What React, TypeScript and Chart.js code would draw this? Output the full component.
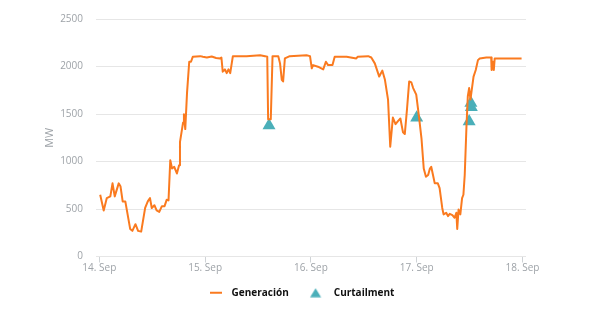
import React, { useEffect, useRef } from 'react';
import { Chart, registerables } from 'chart.js';
Chart.register(...registerables);

// Hours since 14 Sep 00:00
const genHours = [
  0.2, 1.0, 1.7, 2.5, 3.0, 3.5, 4.4, 4.8, 5.3, 5.9, 7.0, 7.5, 8.2, 8.8, 9.5, 10.4, 11.0, 11.5, 11.9, 12.5,
  13.0, 13.6, 14.2, 14.8, 15.3, 15.7, 16.1, 16.5, 17.0, 17.6, 18.1, 18.3, 19.0, 19.2, 19.5, 19.9, 20.4, 20.8,
  21.2, 22.9, 23.5, 24.4, 25.5, 26.5, 27.4, 27.7, 28.0, 28.5, 28.9, 29.3, 29.7, 30.3, 33.4, 36.5, 37.6, 38.1,
  38.3, 38.9, 39.3, 40.6, 41.0, 41.4, 41.7, 42.1, 43.2, 47.0, 47.8, 48.2, 48.5, 49.6, 50.8, 51.4, 51.9, 52.9,
  53.4, 56.1, 58.3, 58.6, 61.0, 61.7, 62.5, 63.5, 64.2, 64.8, 65.5, 66.0, 66.6, 67.2, 67.8, 68.3, 68.9, 69.3,
  69.8, 70.3, 70.8, 71.2, 71.9, 72.5, 73.1, 73.6, 74.1, 74.6, 75.0, 75.3, 75.7, 76.1, 76.8, 77.2, 77.8, 78.1,
  78.7, 79.1, 79.5, 80.1, 80.6, 81.0, 81.2, 81.5, 81.9, 82.3, 82.6, 82.9, 83.3, 83.6, 83.9, 84.2, 84.5, 84.9,
  85.4, 85.9, 86.3, 87.8, 88.9, 89.0, 89.3, 89.5, 89.7, 92.3, 95.8,
];
const genMW = [
  650, 485, 615, 633, 770, 633, 770, 740, 580, 580, 290, 270, 340, 270, 262, 511, 580, 615, 511, 540,
  485, 470, 530, 530, 598, 590, 1013, 926, 944, 874, 961, 1203, 1410, 1497, 1341, 1722, 2050, 2050,
  2102, 2109, 2102, 2095, 2105, 2090, 2085, 2095, 1946, 1970, 1930, 1970, 1930, 2109, 2109, 2119, 2109, 2102,
  1445, 1445, 2109, 2109, 2033, 1860, 1843, 2085, 2109, 2119, 2109, 1981, 2015, 1998, 1970, 2050, 2015, 2015,
  2102, 2102, 2085, 2102, 2109, 2095, 2033, 1894, 1957, 1860, 1652, 1155, 1462, 1393, 1428, 1452, 1307, 1289,
  1548, 1843, 1832, 1773, 1704, 1480, 1237, 926, 840, 858, 926, 944, 858, 770, 770, 719, 511, 443,
  460, 425, 449, 436, 408, 460, 290, 495, 443, 615, 650, 858, 1376, 1687, 1773, 1652, 1756, 1894,
  1963, 2067, 2085, 2095, 2095, 1963, 2050, 1963, 2085, 2085, 2085,
];
const curtailHours = [38.5, 72.0, 83.9, 84.4, 84.3];
const curtailMW = [1380, 1460, 1420, 1570, 1615];

const xTickHours = [0, 24, 48, 72, 96];
const xTickLabels = ['14. Sep', '15. Sep', '16. Sep', '17. Sep', '18. Sep'];
const yTickStep = 500;
const yMax = 2500;
const seriesNames = ['Generación', 'Curtailment'];

const ORANGE = '#fa7a1f';
const TEAL = '#4aafb9';
const GRID = '#e6e6e6';
const TICK = '#9ea3a8';

function makeLineIcon() {
  const c = document.createElement('canvas');
  c.width = 12; c.height = 4;
  const g = c.getContext('2d')!;
  g.strokeStyle = ORANGE; g.lineWidth = 2;
  g.beginPath(); g.moveTo(0, 2); g.lineTo(12, 2); g.stroke();
  return c;
}
function makeTriIcon() {
  const c = document.createElement('canvas');
  c.width = 22; c.height = 10;
  const g = c.getContext('2d')!;
  g.fillStyle = TEAL;
  const cx = 8.3;
  g.beginPath(); g.moveTo(cx, 0.5); g.lineTo(cx + 5.5, 9.5); g.lineTo(cx - 5.5, 9.5); g.closePath(); g.fill();
  return c;
}

export default function App() {
  const ref = useRef<HTMLCanvasElement>(null);
  useEffect(() => {
    document.body.style.margin = '0';
    Chart.defaults.font.family = "'Open Sans', sans-serif";
    const lineIcon = makeLineIcon();
    const triIcon = makeTriIcon();
    const chart = new Chart(ref.current!, {
      type: 'line',
      data: {
        datasets: [
          {
            label: seriesNames[0],
            data: genHours.map((h, i) => ({ x: h, y: genMW[i] })),
            borderColor: ORANGE,
            backgroundColor: ORANGE,
            borderWidth: 2,
            pointRadius: 0,
            tension: 0,
            borderJoinStyle: 'round',
          },
          {
            label: seriesNames[1],
            data: curtailHours.map((h, i) => ({ x: h, y: curtailMW[i] })),
            showLine: false,
            pointStyle: 'triangle',
            pointRadius: 7.5,
            pointBackgroundColor: TEAL,
            pointBorderColor: TEAL,
            pointBorderWidth: 0,
            borderColor: TEAL,
            backgroundColor: TEAL,
          },
        ],
      },
      options: {
        responsive: false,
        animation: false,
        layout: { padding: { top: 15, left: 0, right: 0, bottom: 2.3 } },
        scales: {
          x: {
            type: 'linear',
            min: -0.75,
            max: 96.8,
            afterBuildTicks: (s: any) => { s.ticks = xTickHours.map((v) => ({ value: v })); },
            afterFit: (s: any) => { s.height = 21; },
            ticks: {
              color: TICK,
              font: { size: 10 },
              padding: 0,
              maxRotation: 0,
              autoSkip: false,
              callback: (v: any) => { const i = xTickHours.indexOf(Number(v)); return i >= 0 ? xTickLabels[i] : ''; },
            },
            grid: { display: true, drawOnChartArea: false, drawTicks: true, tickLength: 6, color: '#cfd3d6' },
            border: { display: false },
          },
          y: {
            min: 0,
            max: yMax,
            afterFit: (s: any) => { s.width = 96; },
            ticks: { stepSize: yTickStep, color: TICK, font: { size: 10 }, padding: 13, callback: (v: any) => String(v) },
            grid: { color: GRID, drawTicks: false, lineWidth: 1 },
            border: { display: false },
            title: { display: true, text: 'MW', color: TICK, font: { size: 11 }, padding: { top: 43, bottom: 0 } },
          },
          y2: {
            type: 'linear',
            position: 'right',
            display: true,
            afterFit: (s: any) => { s.width = 74; },
            ticks: { display: false },
            grid: { display: false },
            border: { display: false },
          },
        },
        plugins: {
          tooltip: { enabled: false },
          legend: {
            position: 'bottom',
            title: { display: true, text: '', font: { size: 1, lineHeight: 1.2 }, padding: { top: -10, bottom: 0 } },
            labels: {
              usePointStyle: true,
              pointStyleWidth: 21,
              padding: 19,
              color: '#111',
              font: { size: 10, weight: 'bold' },
              generateLabels: () => [
                { text: seriesNames[0], pointStyle: lineIcon as any, fillStyle: ORANGE, strokeStyle: ORANGE, lineWidth: 0, hidden: false, datasetIndex: 0, fontColor: '#111' },
                { text: seriesNames[1], pointStyle: triIcon as any, fillStyle: TEAL, strokeStyle: TEAL, lineWidth: 0, hidden: false, datasetIndex: 1, fontColor: '#111' },
              ],
            },
          },
        },
      } as any,
    });
    return () => chart.destroy();
  }, []);
  return <canvas ref={ref} width={600} height={310} style={{ display: 'block' }} />;
}
